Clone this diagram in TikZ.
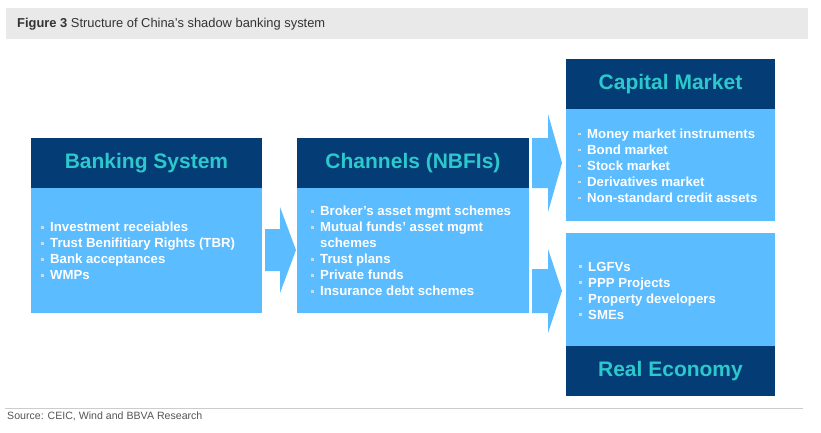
\documentclass[tikz,border=0pt]{standalone}
\usepackage{fontspec}
\setmainfont{Liberation Sans}
\usepackage{tikz}
\usetikzlibrary{positioning}

\definecolor{bbvanavy}{RGB}{4,60,118}
\definecolor{bbvasky}{RGB}{91,188,255}
\definecolor{bbvaaqua}{RGB}{45,200,204}
\definecolor{titlegray}{RGB}{233,233,233}
\definecolor{sourcegray}{RGB}{85,85,85}

\newcommand{\sq}{\makebox[9pt][l]{\textcolor{white!85!black}{\rule[3pt]{2.6pt}{2.6pt}}}}

\tikzset{
  headbox/.style={fill=bbvanavy, text=bbvaaqua, inner sep=0pt, minimum height=50pt,
    font=\bfseries\fontsize{21}{25}\selectfont},
  bodybox/.style={fill=bbvasky, inner sep=0pt},
  listtext/.style={anchor=west, align=left, text=white, inner sep=0pt,
    font=\bfseries\fontsize{13.2}{16}\selectfont},
  arrowfill/.style={fill=bbvasky}
}

\begin{document}
\begin{tikzpicture}[x=1pt,y=-1pt]
\useasboundingbox[fill=white] (0,0) rectangle (821,432);
% title bar
\fill[titlegray] (6,7.5) rectangle (808,39);
\node[anchor=base west, inner sep=0pt, font=\fontsize{12.9}{15}\selectfont, text=black!80] (title) at (17,27.5)
  {\textbf{Figure 3} Structure of China’s shadow banking system};
% banking system
\node[headbox, minimum width=231pt] (bankhead) at (146.5,163) {Banking System};
\node[bodybox, minimum width=231pt, minimum height=125pt] (bankbody) at (146.5,250.5) {};
\node[listtext] (banklist) at (41,251) {\sq Investment receiables\\ \sq Trust Benifitiary Rights (TBR)\\ \sq Bank acceptances\\ \sq WMPs};
% channels
\node[headbox, minimum width=232pt] (chanhead) at (413,163) {Channels (NBFIs)};
\node[bodybox, minimum width=232pt, minimum height=125pt] (chanbody) at (413,250.5) {};
\node[listtext] (chanlist) at (311,251) {\sq Broker’s asset mgmt schemes\\ \sq Mutual funds’ asset mgmt\\ \hspace*{9pt}schemes\\ \sq Trust plans\\ \sq Private funds\\ \sq Insurance debt schemes};
% capital market
\node[headbox, minimum width=209pt] (caphead) at (670.5,84) {Capital Market};
\node[bodybox, minimum width=209pt, minimum height=112pt] (capbody) at (670.5,165) {};
\node[listtext] (caplist) at (578,165.5) {\sq Money market instruments\\ \sq Bond market\\ \sq Stock market\\ \sq Derivatives market\\ \sq Non-standard credit assets};
% real economy
\node[bodybox, minimum width=209pt, minimum height=113pt] (realbody) at (670.5,289.5) {};
\node[headbox, minimum width=209pt] (realhead) at (670.5,371) {Real Economy};
\node[listtext] (reallist) at (579,290.5) {\sq LGFVs\\ \sq PPP Projects\\ \sq Property developers\\ \sq SMEs};
% arrows
\coordinate (a1) at (265,250);
\coordinate (a2) at (532,163);
\coordinate (a3) at (532,291);
\fill[arrowfill] (a1) ++(0,-21) -- ++(15,0) -- ++(0,-22) -- ++(16,43) -- ++(-16,43) -- ++(0,-22) -- ++(-15,0) -- cycle;
\fill[arrowfill] (a2) ++(0,-25) -- ++(16,0) -- ++(0,-24) -- ++(14,49) -- ++(-14,49) -- ++(0,-24) -- ++(-16,0) -- cycle;
\fill[arrowfill] (a3) ++(0,-22) -- ++(16,0) -- ++(0,-20) -- ++(14,42) -- ++(-14,42) -- ++(0,-20) -- ++(-16,0) -- cycle;
% source
\draw[black!20, line width=0.8pt] (5,408) -- (803,408);
\node[anchor=base west, inner sep=0pt, font=\fontsize{10.6}{13}\selectfont, text=sourcegray] (source) at (7,419)
  {Source: CEIC, Wind and BBVA Research};
\end{tikzpicture}
\end{document}
